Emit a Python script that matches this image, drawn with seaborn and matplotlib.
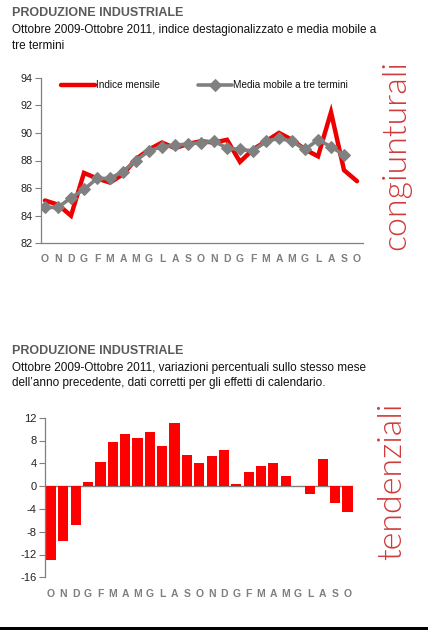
import numpy as np
import pandas as pd
import matplotlib
matplotlib.use("Agg")
import matplotlib.pyplot as plt
import seaborn as sns

# ---- data ----
months = ["O", "N", "D", "G", "F", "M", "A", "M", "G", "L", "A", "S",
          "O", "N", "D", "G", "F", "M", "A", "M", "G", "L", "A", "S", "O"]
indice_mensile = [85.1, 84.8, 84.0, 87.1, 86.7, 86.4, 87.0, 88.1, 88.8, 89.3, 88.9, 89.2,
                  89.4, 89.3, 89.5, 87.9, 88.8, 89.4, 90.0, 89.5, 88.8, 88.3, 91.5, 87.3, 86.5]
media_mobile = [84.6, 84.6, 85.3, 85.9, 86.7, 86.7, 87.2, 88.0, 88.7, 89.0, 89.1, 89.2,
                89.3, 89.4, 88.9, 88.8, 88.7, 89.4, 89.6, 89.4, 88.8, 89.5, 89.0, 88.4]
variazioni = [-13.0, -9.7, -6.9, 0.8, 4.2, 7.8, 9.2, 8.5, 9.5, 7.0, 11.1, 5.5,
              4.0, 5.2, 6.4, 0.4, 2.4, 3.6, 4.0, 1.8, 0.0, -1.3, 4.7, -2.9, -4.5]
top_yticks = [82, 84, 86, 88, 90, 92, 94]
bot_yticks = [-16, -12, -8, -4, 0, 4, 8, 12]

sns.set_style("white")
plt.rcParams["font.family"] = ["Liberation Sans", "DejaVu Sans"]

W, H = 428, 630
fig = plt.figure(figsize=(W / 100, H / 100), dpi=100)
fig.patch.set_facecolor("white")

def fx(px):
    return px / W

def fy(py):
    return 1 - py / H

AXC = "#808080"
MONTHC = "#7f7f7f"
RED = "#ee0000"
GRAY = "#808080"

# ---- titles ----
fig.text(fx(12), fy(15.7), "PRODUZIONE INDUSTRIALE", fontsize=9.0, fontweight="bold",
         color="#5a5a5a", va="baseline")
fig.text(fx(12), fy(33.3), "Ottobre 2009-Ottobre 2011, indice destagionalizzato e media mobile a",
         fontsize=8.5, color="#111111", va="baseline")
fig.text(fx(12), fy(48.7), "tre termini", fontsize=8.5, color="#111111", va="baseline")

fig.text(fx(12), fy(354), "PRODUZIONE INDUSTRIALE", fontsize=9.0, fontweight="bold",
         color="#5a5a5a", va="baseline")
fig.text(fx(12), fy(370.7), "Ottobre 2009-Ottobre 2011, variazioni percentuali sullo stesso mese",
         fontsize=8.5, color="#111111", va="baseline")
fig.text(fx(12), fy(386.2), "dell\u2019anno precedente, dati corretti per gli effetti di calendario.",
         fontsize=8.5, color="#111111", va="baseline")

# ---- side labels ----
SIDEC = "#d03a3a"
fig.text(fx(396), fy(155), "congiunturali", rotation=90, fontsize=24.5, fontweight=300,
         family=["Lato", "Open Sans", "DejaVu Sans"], color=SIDEC, ha="center", va="center")
fig.text(fx(392), fy(481), "tendenziali", rotation=90, fontsize=24.5, fontweight=300,
         family=["Lato", "Open Sans", "DejaVu Sans"], color=SIDEC, ha="center", va="center")

# ---- top chart ----
ax1 = fig.add_axes([fx(40.7), fy(243.3), fx(363) - fx(40.7), fy(77.7) - fy(243.3)])
df1 = pd.DataFrame({"x": np.arange(len(indice_mensile)), "y": indice_mensile})
df2 = pd.DataFrame({"x": np.arange(len(media_mobile)), "y": media_mobile})
sns.lineplot(data=df1, x="x", y="y", ax=ax1, color=RED, linewidth=3.2,
             label="Indice mensile", solid_joinstyle="miter")
sns.lineplot(data=df2, x="x", y="y", ax=ax1, color=GRAY, linewidth=2.6, marker="D",
             markersize=6.5, markeredgecolor=GRAY, label="Media mobile a tre termini")
ax1.set_xlim(-0.33, 24.46)
ax1.set_ylim(82, 94)
ax1.set_yticks(top_yticks)
ax1.set_yticklabels([str(v) for v in top_yticks], fontsize=7.8, color="#222222")
ax1.set_xticks(np.arange(len(months)))
ax1.set_xticklabels(months, fontsize=7.5, fontweight="bold", color=MONTHC)
ax1.tick_params(axis="x", length=0, pad=7.5)
ax1.tick_params(axis="y", length=4, width=0.8, color=AXC, pad=2, direction="out", left=True)
ax1.set_xlabel("")
ax1.set_ylabel("")
for s in ["top", "right"]:
    ax1.spines[s].set_visible(False)
for s in ["left", "bottom"]:
    ax1.spines[s].set_color(AXC)
    ax1.spines[s].set_linewidth(0.9)
leg = ax1.legend(loc="upper left", bbox_to_anchor=(0.035, 1.04), ncol=2, frameon=False,
                 handlelength=3.4, handletextpad=0.1, columnspacing=3.8,
                 prop={"size": 7.2})
for t in leg.get_texts():
    t.set_color("#111111")

# ---- bottom chart ----
ax2 = fig.add_axes([fx(45), fy(577.3), fx(353) - fx(45), fy(417.7) - fy(577.3)])
df3 = pd.DataFrame({"x": np.arange(len(variazioni)), "y": variazioni})
sns.barplot(data=df3, x="x", y="y", ax=ax2, color="#ff0000", saturation=1, width=0.82,
            edgecolor="none")
ax2.set_xlim(-0.49, 24.45)
ax2.set_ylim(-16, 12)
ax2.set_yticks(bot_yticks)
ax2.set_yticklabels([str(v) for v in bot_yticks], fontsize=8, color="#222222")
ax2.set_xticks(np.arange(len(months)))
ax2.set_xticklabels(months, fontsize=7.5, fontweight="bold", color=MONTHC)
ax2.tick_params(axis="x", length=0, pad=8.5)
ax2.tick_params(axis="y", length=4, width=0.8, color=AXC, pad=2, direction="out", left=True)
ax2.set_xlabel("")
ax2.set_ylabel("")
for s in ["top", "right", "bottom"]:
    ax2.spines[s].set_visible(False)
ax2.spines["left"].set_color(AXC)
ax2.spines["left"].set_linewidth(0.9)
ax2.axhline(0, color=AXC, linewidth=1.0, zorder=0.5)

# ---- bottom black rule ----
fig.add_artist(plt.Rectangle((0, 0), 1, 3 / H, transform=fig.transFigure,
                             facecolor="black", edgecolor="none"))

fig.savefig("out.png", dpi=100, facecolor="white")
